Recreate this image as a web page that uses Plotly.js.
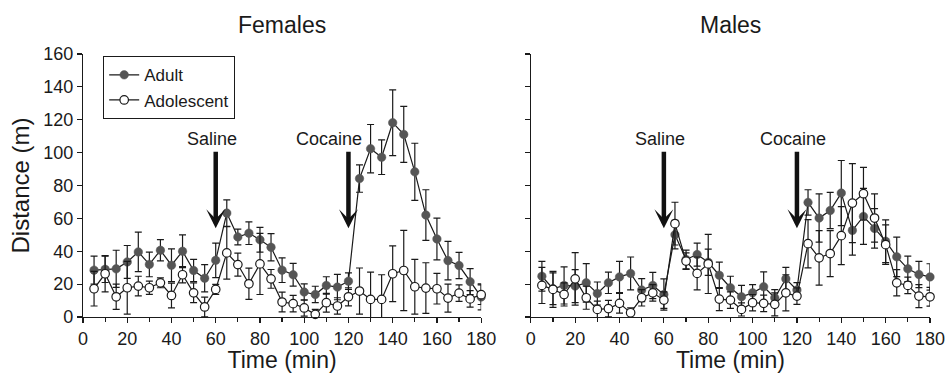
<!DOCTYPE html>
<html>
<head>
<meta charset="utf-8">
<script src="https://cdn.plot.ly/plotly-3.0.1.min.js"></script>
<style>html,body{margin:0;padding:0;background:#fff;}#chart{width:946px;height:373px;}</style>
</head>
<body>
<div id="chart"></div>
<script>
// Time points (min)
const time = [5,10,15,20,25,30,35,40,45,50,55,60,65,70,75,80,85,90,95,100,105,110,115,120,125,130,135,140,145,150,155,160,165,170,175,180];

// Females
const femAdult = [28.5,29,29.3,33.5,39.6,32,40.6,31.5,40,28.3,23.6,34.5,63.2,48.7,51,47,42.4,28.5,25.7,15.2,13.7,19.2,18.2,21.8,84.2,102.4,97.2,118.2,111.1,88.3,62,47.5,34.3,31.3,21.5,12.2];
const femAdultErr = [8.5,8,11.3,10,12,7.5,6.5,10,10,6.7,8.3,10.5,8,4.8,6.9,7.5,8.3,7.5,6.9,5,5,5.3,7.7,5,8.3,14.7,10.5,20,17,17.4,15.4,12.7,11.7,8,7.9,7.9];
const femAdol = [17.2,26.3,12.3,17.8,18.8,17.8,20.8,13.1,25.7,14.7,6.1,16.8,39,31.9,20.2,32.3,23.2,9.1,8.1,5.5,1.6,8.7,6.7,12.3,15.8,10.7,10.7,26.3,28.3,18.4,17.6,17.2,11.5,14.5,11,13.6];
const femAdolErr = [10.5,11,7.7,16,6,4,3,7.5,5,6,6,3,16,7,9.5,18.6,5.7,6,5,5,3,5.7,5,5.5,14,16.6,15,17,24.4,16.6,15.4,9.3,8.5,5,5,6];

// Males
const maleAdult = [24.8,17.2,19.2,18.8,20.8,14.3,20.8,24.4,26.5,16.4,19.2,13.7,50.1,35,38,33.3,25.4,17.8,12.3,14.7,18.4,11.7,23.2,16.4,69.7,60.2,64.8,75.4,52.7,61.2,53.9,46.1,36.6,29.3,25.9,24.4];
const maleAdultErr = [9,9.7,11.3,10,11.7,7,6.5,9.5,10,7,8,9.5,8.7,5.7,7,8,8,7,7,5,9,5,7,4.5,7.7,14.7,11,19.8,15,17,12,13,12,7.7,8,8];
const maleAdol = [19.2,16.8,13.7,23.2,11.7,4.6,5.1,8.3,2.6,11.7,14.7,10.3,56.8,34,26.5,32.3,10.9,10.3,4.6,8.7,8.3,7.7,14.7,12.7,44.6,36,38.6,49.5,69.3,75,60.2,44,20.8,19.2,12.7,12.3];
const maleAdolErr = [11,11,7,16,7,5,5,6,3,5,5,5,13,5,10,18,7,5,4,5,5,7,11,5,14.7,16.6,14,17.6,24,16,14.7,12,8,5,7,5.7];

// Injections
const injTimes = [60, 120];
const injLabels = ["Saline", "Cocaine"];
const panelTitles = ["Females", "Males"];
const seriesNames = ["Adult", "Adolescent"];

const FONT = "Liberation Sans, Arial, Helvetica, sans-serif";
const INK = "#1a1a1a";

function series(x, y, err, name, filled, xa, ya, showlegend) {
  return {
    type: "scatter", mode: "lines+markers", x: x, y: y, name: name,
    xaxis: xa, yaxis: ya, showlegend: showlegend, cliponaxis: false,
    line: {color: INK, width: 1.2},
    marker: filled
      ? {symbol: "circle", size: 8.5, color: "#555555", line: {color: "#555555", width: 0.5}}
      : {symbol: "circle", size: 8.5, color: "#ffffff", line: {color: INK, width: 1.2}},
    error_y: {type: "data", array: err, visible: true, color: INK, thickness: 1.2, width: 3.5}
  };
}

const traces = [
  series(time, femAdult, femAdultErr, seriesNames[0], true, "x", "y", true),
  series(time, femAdol, femAdolErr, seriesNames[1], false, "x", "y", true),
  series(time, maleAdult, maleAdultErr, seriesNames[0], true, "x2", "y2", false),
  series(time, maleAdol, maleAdolErr, seriesNames[1], false, "x2", "y2", false)
];

const xBase = {
  range: [0, 180], showgrid: false, zeroline: false, showline: true, linecolor: INK, linewidth: 1.2,
  ticks: "outside", ticklen: 5, tickwidth: 1.2, tickcolor: INK, dtick: 20, tick0: 0,
  minor: {dtick: 10, ticks: "outside", ticklen: 4, tickwidth: 1.2, tickcolor: INK},
  tickfont: {family: FONT, size: 18, color: INK},
  title: {text: "Time (min)", font: {family: FONT, size: 23, color: INK}, standoff: 4},
  fixedrange: true
};
const yBase = {
  range: [0, 160], showgrid: false, zeroline: false, showline: true, linecolor: INK, linewidth: 1.2,
  ticks: "outside", ticklen: 5, tickwidth: 1.2, tickcolor: INK, dtick: 20, tick0: 0,
  tickfont: {family: FONT, size: 18, color: INK}, fixedrange: true
};

const annotations = [];
const xrefs = ["x", "x2"], yrefs = ["y", "y2"];
const textX = [[58.3, 111.2], [58.2, 118.3]];
for (let p = 0; p < 2; p++) {
  annotations.push({
    xref: xrefs[p] + " domain", yref: yrefs[p] + " domain", x: 0.5, y: 1.11,
    text: panelTitles[p], showarrow: false, xanchor: "center", yanchor: "middle",
    font: {family: FONT, size: 23, color: INK}
  });
  for (let i = 0; i < injTimes.length; i++) {
    annotations.push({
      xref: xrefs[p], yref: yrefs[p], axref: xrefs[p], ayref: yrefs[p],
      x: injTimes[i], y: 54, ax: injTimes[i], ay: 101.5,
      text: "", showarrow: true, arrowhead: 3, arrowsize: 0.7, arrowwidth: 4.5, arrowcolor: "#111111"
    });
    annotations.push({
      xref: xrefs[p], yref: yrefs[p], x: textX[p][i], y: 108,
      text: injLabels[i], showarrow: false, xanchor: "center", yanchor: "middle",
      font: {family: FONT, size: 18, color: INK}
    });
  }
}

const layout = {
  width: 946, height: 373,
  margin: {l: 82.7, r: 16, t: 54, b: 55.5},
  paper_bgcolor: "#ffffff", plot_bgcolor: "#ffffff",
  font: {family: FONT, color: INK},
  xaxis: Object.assign({}, xBase, {domain: [0, 0.4701], anchor: "y"}),
  yaxis: Object.assign({}, yBase, {domain: [0, 1], anchor: "x",
    title: {text: "Distance (m)", font: {family: FONT, size: 24, color: INK}, standoff: 6}}),
  xaxis2: Object.assign({}, xBase, {domain: [0.5287, 1], anchor: "y2"}),
  yaxis2: Object.assign({}, yBase, {domain: [0, 1], anchor: "x2", showticklabels: false}),
  showlegend: true,
  legend: {
    x: 0.0236, y: 0.992, xanchor: "left", yanchor: "top",
    bgcolor: "#ffffff", bordercolor: INK, borderwidth: 1.2,
    font: {family: FONT, size: 17, color: INK}, itemwidth: 30, tracegroupgap: 0
  },
  annotations: annotations
};

Plotly.newPlot("chart", traces, layout, {displayModeBar: false, staticPlot: true});
</script>
</body>
</html>
